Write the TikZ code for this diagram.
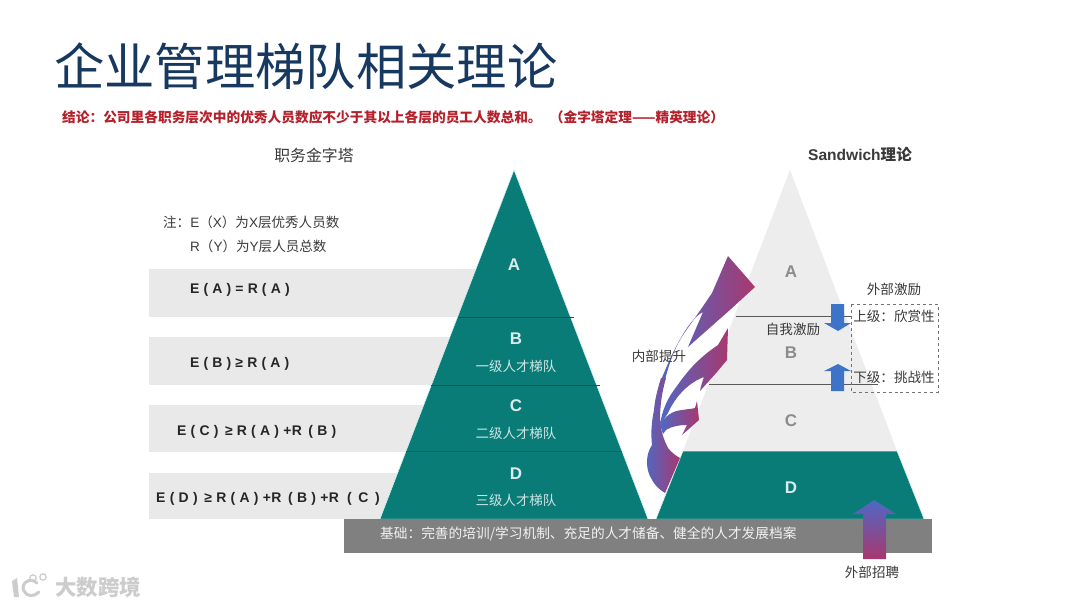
\documentclass[tikz,border=0pt]{standalone}
\usepackage{fontspec}
\setmainfont{Liberation Sans}
\newfontfamily\cjk{Noto Sans CJK SC}
\definecolor{teal1}{HTML}{0A7C78}
\definecolor{pale}{HTML}{EDEDED}
\definecolor{strip}{HTML}{E9E9E9}
\definecolor{halo}{HTML}{D8F6F6}
\definecolor{bar}{HTML}{808080}
\definecolor{navy}{HTML}{17395F}
\definecolor{redt}{HTML}{B5202A}
\definecolor{txt}{HTML}{3A3A3A}
\definecolor{grad1}{HTML}{4F68C4}
\definecolor{grad2}{HTML}{A8386F}
\definecolor{blue1}{HTML}{3D74C8}
\tikzset{
  cn/.style={inner sep=0pt,text=txt,font=\cjk\fontsize{#1}{#1}\selectfont},
  cn/.default=13.6,
  formula/.style={inner sep=0pt,anchor=west,text=black!85,font=\bfseries\fontsize{14}{14}\selectfont\addfontfeature{LetterSpace=#1}},
  formula/.default=2,
  letterA/.style={inner sep=0pt,text=#1,font=\bfseries\fontsize{17}{17}\selectfont},
  tier/.style={inner sep=0pt,text=white!80!teal1,font=\cjk\fontsize{13.5}{13.5}\selectfont},
  lvl/.style={draw=black!65,line width=0.9pt},
  flowl/.style={left color=grad1,right color=grad2,shading angle=#1},
  flowl/.default=90,
}
\begin{document}
\begin{tikzpicture}[x=1bp,y=-1bp]
\useasboundingbox (0,0) rectangle (1080,607);
\fill[white] (0,0) rectangle (1080,607);
% title
\node[anchor=west,inner sep=0pt,text=navy,font=\cjk\fontsize{50.5}{51}\selectfont] (title) at (54,66) {企业管理梯队相关理论};
\node[anchor=west,inner sep=0pt,text=redt,font=\cjk\bfseries\fontsize{13.75}{14}\selectfont] (concl) at (62,117) {结论：公司里各职务层次中的优秀人员数应不少于其以上各层的员工人数总和。\hspace{0.6em}（金字塔定理——精英理论）};
\node[cn=15.9] (ltitle) at (314,155) {职务金字塔};
\node[inner sep=0pt,text=txt,font=\bfseries\fontsize{15.6}{15.6}\selectfont] (rtitle) at (860,155) {Sandwich{\cjk\bfseries 理论}};
% note
\node[anchor=west,inner sep=0pt,text=txt,font=\fontsize{13.6}{13.6}\selectfont] (note1) at (163,222) {{\cjk 注：}E{\cjk（}X{\cjk）为}X{\cjk 层优秀人员数}};
\node[anchor=west,inner sep=0pt,text=txt,font=\fontsize{13.6}{13.6}\selectfont] (note2) at (190,246) {R{\cjk（}Y{\cjk）为}Y{\cjk 层人员总数}};
% strips
\fill[strip] (149,269) rectangle (500,317);
\fill[strip] (149,337) rectangle (500,385);
\fill[strip] (149,405) rectangle (500,452);
\fill[strip] (149,473) rectangle (500,519);
\node[formula] (f1) at (190,290) {E ( A ) = R ( A )};
\node[formula] (f2) at (190,364) {E ( B ) ≥ R ( A )};
\node[formula=2.5] (f3) at (177,432) {E ( C ) \,≥ R ( A ) +R \,( B )};
\node[formula=3] (f4) at (156,499) {E ( D ) \,≥ R ( A ) +R \,( B ) +R \;( \,C \,)};
% left pyramid
\fill[teal1,draw=halo,line width=0.5pt] (514,170) -- (648,519) -- (380,519) -- cycle;
\coordinate (lab1) at (458,317); \coordinate (lab2) at (574,317);
\coordinate (lbc1) at (431,385); \coordinate (lbc2) at (600,385);
\coordinate (lcd1) at (406,451); \coordinate (lcd2) at (622,451);
\draw[teal1!70!black,line width=0.8pt] (lab1) -- (lab2);
\draw[teal1!70!black,line width=0.8pt] (lbc1) -- (lbc2);
\draw[teal1!85!black,line width=0.6pt] (lcd1) -- (lcd2);
\node[letterA=white!85!teal1] (la) at (514,265) {A};
\node[letterA=white!85!teal1] (lb) at (516,339) {B};
\node[tier] (lb2) at (516,366) {一级人才梯队};
\node[letterA=white!85!teal1] (lc) at (516,406) {C};
\node[tier] (lc2) at (516,433) {二级人才梯队};
\node[letterA=white!85!teal1] (ld) at (516,474) {D};
\node[tier] (ld2) at (516,500) {三级人才梯队};
% right pyramid
\fill[pale] (790,170) -- (897,451) -- (683,451) -- cycle;
\fill[teal1,draw=halo,line width=0.5pt] (683,451) -- (897,451) -- (924,519) -- (656,519) -- cycle;
\node[letterA=black!45] (ra) at (791,272) {A};
\node[letterA=black!45] (rb) at (791,353) {B};
\node[letterA=black!45] (rc) at (791,421) {C};
\node[letterA=white!85!teal1] (rd) at (791,488) {D};
% base
\fill[bar] (344,519) rectangle (932,553);
\node[anchor=west,inner sep=0pt,text=white!90!bar,font=\cjk\fontsize{13.75}{14}\selectfont] (base) at (380,534) {基础：完善的培训/学习机制、充足的人才储备、健全的人才发展档案};
% level lines
\coordinate (rab1) at (736,316); \coordinate (rab2) at (851,316);
\coordinate (rbc1) at (709,384); \coordinate (rbc2) at (878,384);
\draw[lvl] (rab1) -- (rab2);
\draw[lvl] (rbc1) -- (rbc2);
% flows: large arrow head and thin stem
\shade[flowl] (728,256) -- (755,287) -- (731,309) -- (688,347) -- (703,312)
  .. controls (695,316) and (687,326) .. (677,345)
  .. controls (671,356) and (666,368) .. (661,380)
  -- (665,380)
  .. controls (670,360) and (676,345) .. (685,332)
  .. controls (692,322) and (702,308) .. (712,293) -- cycle;
% large arrow trunk and foot
\shade[flowl] (661,378) -- (666,378)
  .. controls (662,392) and (660,405) .. (660,420)
  .. controls (661,432) and (664,440) .. (668,448)
  .. controls (671,452) and (676,456) .. (680,458)
  -- (665,493)
  .. controls (660,490) and (655,486) .. (651,478)
  .. controls (646,470) and (645,455) .. (652,445)
  .. controls (651,435) and (651,425) .. (654,410)
  .. controls (655,398) and (658,388) .. (661,378) -- cycle;
% middle arrow
\shade[flowl] (728,328) -- (727,360) -- (717,372) -- (700,391)
  .. controls (701,385) and (703,380) .. (704,377)
  .. controls (690,382) and (676,395) .. (668,413)
  -- (660,425)
  .. controls (662,410) and (668,397) .. (677,386)
  .. controls (688,370) and (700,357) .. (718,345) -- cycle;
% low arrow
\shade[flowl] (697,401) -- (699,420) -- (682,435) -- (687,425)
  .. controls (680,425) and (672,426) .. (666,430)
  -- (663,434) -- (660,425)
  .. controls (665,416) and (672,411) .. (682,410)
  .. controls (688,409) and (692,409) .. (695,408) -- cycle;
% blue arrows
\fill[blue1] (831,304) -- (844,304) -- (844,323) -- (851,323) -- (838,331) -- (824,323) -- (831,323) -- cycle;
\fill[blue1] (831,391) -- (844,391) -- (844,371) -- (851,371) -- (838,364) -- (824,371) -- (831,371) -- cycle;
\draw[dashed,draw=black!55,line width=0.6pt] (851,304) rectangle (938,392);
% bottom arrow
\shade[top color=grad1,bottom color=grad2] (874,500) -- (896,514) -- (886,514) -- (886,559) -- (863,559) -- (863,514) -- (853,514) -- cycle;
% labels
\node[cn] (lself) at (793,329) {自我激励};
\node[cn] (lext) at (894,289) {外部激励};
\node[cn] (lup) at (894,316) {上级：欣赏性};
\node[cn] (ldown) at (894,377) {下级：挑战性};
\node[cn] (lint) at (659,356) {内部提升};
\node[cn] (lhire) at (872,572) {外部招聘};
% watermark
\fill[black!20] (12,581) -- (17,578) -- (19,597) -- (14,597) -- cycle;
\begin{scope}[draw=black!20,line width=3pt,line cap=round]
\draw (37,583) .. controls (30,576) and (20,584) .. (24,591) .. controls (27,597) and (34,597) .. (39,592);
\draw[line width=1.2pt] (33,578) circle[radius=3.2] (43,577) circle[radius=3.2];
\end{scope}
\node[anchor=west,inner sep=0pt,text=black!20,font=\cjk\bfseries\fontsize{21.5}{22}\selectfont] (mark) at (55,587) {大数跨境};
\end{tikzpicture}
\end{document}
